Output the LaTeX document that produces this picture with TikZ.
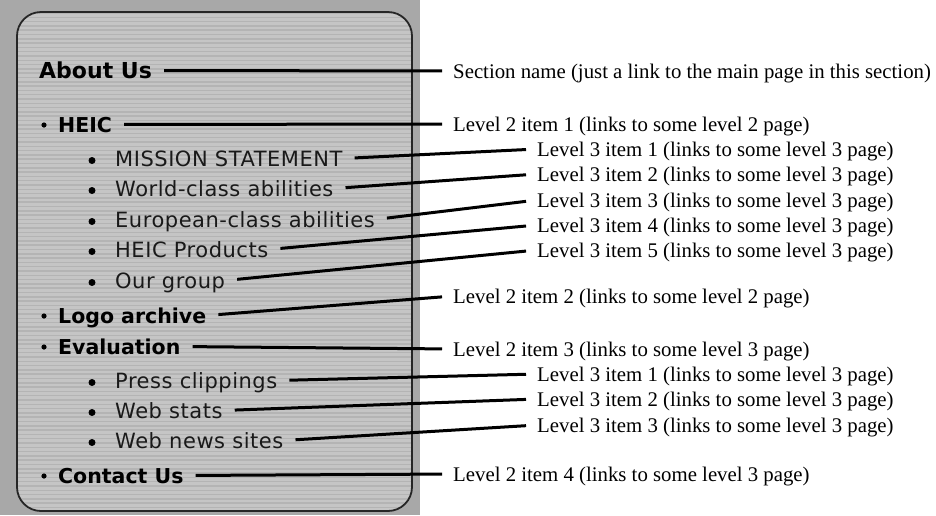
\documentclass[tikz,border=0pt]{standalone}
\usepackage{fontspec}
\setmainfont{Liberation Serif}
\newfontfamily\menufont{DejaVu Sans}
\newfontfamily\subfont[LetterSpace=2.5]{DejaVu Sans}
\definecolor{pagegrey}{HTML}{A8A8A8}
\definecolor{boxgrey}{HTML}{C5C5C5}
\definecolor{stripegrey}{HTML}{B4B4B4}
\begin{document}
\begin{tikzpicture}[x=1pt,y=-1pt,every node/.style={inner sep=0pt},
  top/.style={anchor=base west,font=\menufont\bfseries\fontsize{22}{26}\selectfont,text height=15pt,text depth=0pt},
  lvtwo/.style={anchor=base west,font=\menufont\bfseries\fontsize{20.5}{24}\selectfont,text height=15pt,text depth=0pt},
  lvthree/.style={anchor=base west,font=\subfont\fontsize{21}{25}\selectfont,text=black!90,text height=15pt,text depth=0pt},
  note/.style={anchor=base west,font=\fontsize{20.8}{24}\selectfont,text height=14pt,text depth=0pt},
  link/.style={line width=3pt,shorten <=12pt,shorten >=11pt}]
\useasboundingbox (0,0) rectangle (936,515);
\fill[pagegrey] (0,0) rectangle (420,515);
% menu panel
\begin{scope}
\clip[rounded corners=24pt] (17,12) rectangle (412,511);
\fill[boxgrey] (17,12) rectangle (412,511);
\foreach \s in {13,17.3,...,511} \draw[stripegrey,line width=1.5pt] (17,\s) -- (412,\s);
\end{scope}
\draw[rounded corners=24pt,line width=1.8pt,black!85] (17,12) rectangle (412,511);
% menu entries
\node[top] (about) at (39,78) {About Us};
\node[lvtwo] (heic) at (58,132) {HEIC};
\node[lvthree] (mission) at (115,166) {MISSION STATEMENT};
\node[lvthree] (world) at (115,196) {World-class abilities};
\node[lvthree] (europe) at (115,227) {European-class abilities};
\node[lvthree] (products) at (115,257) {HEIC Products};
\node[lvthree] (group) at (115,288) {Our group};
\node[lvtwo] (logo) at (58,323) {Logo archive};
\node[lvtwo] (eval) at (58,354) {Evaluation};
\node[lvthree] (press) at (115,388) {Press clippings};
\node[lvthree] (stats) at (115,418) {Web stats};
\node[lvthree] (news) at (115,448) {Web news sites};
\node[lvtwo] (contact) at (58,483) {Contact Us};
% bullets
\foreach \b in {125,316,347,476} \fill (44,\b) circle (2.6);
\foreach \b in {160.5,190.5,221.5,251.5,282.5,382.5,412.5,442.5} \fill (92,\b) circle (3.5);
% explanations
\node[note] (sec) at (453,78) {Section name (just a link to the main page in this section)};
\node[note] (twoa) at (453,131) {Level 2 item 1 (links to some level 2 page)};
\node[note] (threea) at (537,156) {Level 3 item 1 (links to some level 3 page)};
\node[note] (threeb) at (537,181) {Level 3 item 2 (links to some level 3 page)};
\node[note] (threec) at (537,207) {Level 3 item 3 (links to some level 3 page)};
\node[note] (threed) at (537,232) {Level 3 item 4 (links to some level 3 page)};
\node[note] (threee) at (537,257) {Level 3 item 5 (links to some level 3 page)};
\node[note] (twob) at (453,303) {Level 2 item 2 (links to some level 2 page)};
\node[note] (twoc) at (453,356) {Level 2 item 3 (links to some level 3 page)};
\node[note] (threef) at (537,381) {Level 3 item 1 (links to some level 3 page)};
\node[note] (threeg) at (537,406) {Level 3 item 2 (links to some level 3 page)};
\node[note] (threeh) at (537,432) {Level 3 item 3 (links to some level 3 page)};
\node[note] (twod) at (453,481) {Level 2 item 4 (links to some level 3 page)};
% connectors
\draw[link] (about.east) -- (sec.west);
\draw[link] (heic.east) -- (twoa.west);
\draw[link] (mission.east) -- (threea.west);
\draw[link] (world.east) -- (threeb.west);
\draw[link] (europe.east) -- (threec.west);
\draw[link] (products.east) -- (threed.west);
\draw[link] (group.east) -- (threee.west);
\draw[link] (logo.east) -- (twob.west);
\draw[link] (eval.east) -- (twoc.west);
\draw[link] (press.east) -- (threef.west);
\draw[link] (stats.east) -- (threeg.west);
\draw[link] (news.east) -- (threeh.west);
\draw[link] (contact.east) -- (twod.west);
\end{tikzpicture}
\end{document}
